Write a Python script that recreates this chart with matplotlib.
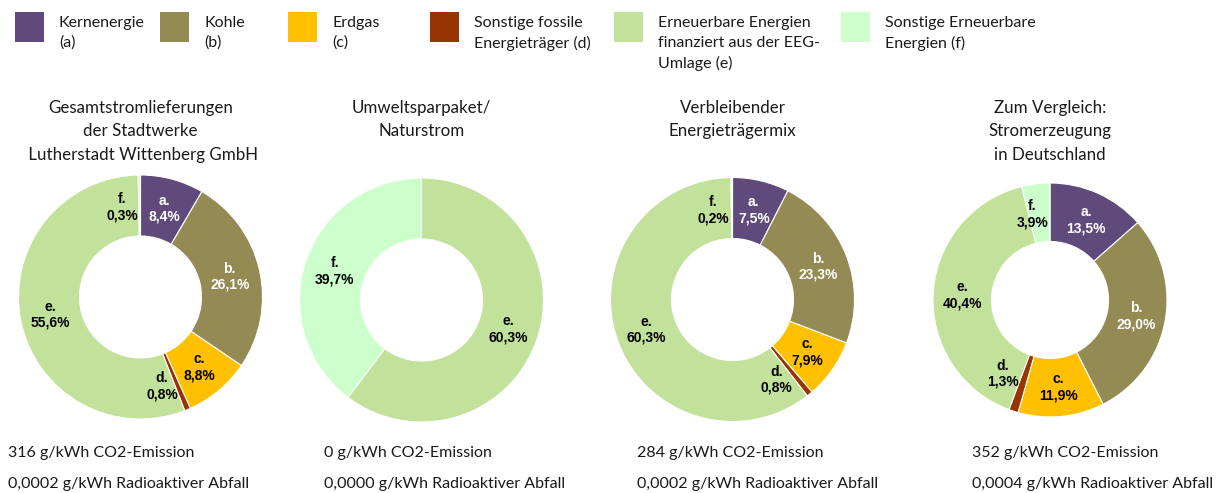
import matplotlib
matplotlib.use("Agg")
import matplotlib.pyplot as plt
from matplotlib.patches import Rectangle
import numpy as np

# ---------------- data ----------------
letters = ["a", "b", "c", "d", "e", "f"]
legend_labels = [
    ["Kernenergie", "(a)"],
    ["Kohle", "(b)"],
    ["Erdgas", "(c)"],
    ["Sonstige fossile", "Energieträger (d)"],
    ["Erneuerbare Energien", "finanziert aus der EEG-", "Umlage (e)"],
    ["Sonstige Erneuerbare", "Energien (f)"],
]
colors = ["#604A7B", "#948A54", "#FFC000", "#993300", "#C2E19B", "#CCFFCC"]
label_colors = ["white", "white", "black", "black", "black", "black"]

titles = [
    ["Gesamtstromlieferungen", "der Stadtwerke", " Lutherstadt Wittenberg GmbH"],
    ["Umweltsparpaket/", "Naturstrom"],
    ["Verbleibender", "Energieträgermix"],
    ["Zum Vergleich:", "Stromerzeugung", "in Deutschland"],
]
gesamt = [8.4, 26.1, 8.8, 0.8, 55.6, 0.3]
umwelt = [0.0, 0.0, 0.0, 0.0, 60.3, 39.7]
verbleibend = [7.5, 23.3, 7.9, 0.8, 60.3, 0.2]
deutschland = [13.5, 29.0, 11.9, 1.3, 40.4, 3.9]
series = [gesamt, umwelt, verbleibend, deutschland]
co2 = ["316", "0", "284", "352"]
radioaktiv = ["0,0002", "0,0000", "0,0002", "0,0004"]

# ---------------- layout / style ----------------
W, H = 1228, 493
FONT = "Lato"
centers = [(140.5, 297), (421.5, 300), (732.5, 299.5), (1050, 300)]
radii = [122, 122, 122, 117]
# angular nudges (degrees, clockwise) for labels of thin slices
nudges = [{"d": 9, "f": -11}, {}, {"d": 10.5, "f": -12}, {"d": 14.5, "f": -4.6}]
legend_sq_x = [15, 160, 288, 430, 614, 841]
text_x = [8, 324, 637.5, 972]

fig = plt.figure(figsize=(W / 100, H / 100), dpi=100)
fig.patch.set_facecolor("white")


def fx(x):
    return x / W


def fy(y):
    return 1 - y / H


def ftext(x, y, s, **kw):
    kw.setdefault("fontfamily", FONT)
    kw.setdefault("fontsize", 11.5)
    kw.setdefault("color", "#1a1a1a")
    fig.text(fx(x), fy(y), s, **kw)


# legend
for i, (lab, col) in enumerate(zip(legend_labels, colors)):
    sx = legend_sq_x[i]
    fig.patches.append(Rectangle((fx(sx), fy(42)), 29 / W, 30 / H,
                                 transform=fig.transFigure, facecolor=col,
                                 edgecolor="none"))
    for j, line in enumerate(lab):
        ftext(sx + 44, 23 + 20 * j, line, ha="left", va="center")

# pies
pad = 1.04
for k, vals in enumerate(series):
    cx, cy = centers[k]
    R = radii[k] * pad
    ax = fig.add_axes([fx(cx - R), fy(cy + R), 2 * R / W, 2 * R / H])
    keep = [i for i, v in enumerate(vals) if v > 0]
    wedges, _ = ax.pie([vals[i] for i in keep], colors=[colors[i] for i in keep],
                       startangle=90, counterclock=False, radius=1,
                       wedgeprops=dict(width=0.5, edgecolor="white", linewidth=0.8))
    ax.set_xlim(-pad, pad)
    ax.set_ylim(-pad, pad)
    ax.set_aspect("equal")
    ax.axis("off")
    for w, i in zip(wedges, keep):
        theta = (w.theta1 + w.theta2) / 2 - nudges[k].get(letters[i], 0)
        r = 0.75
        x, y = r * np.cos(np.radians(theta)), r * np.sin(np.radians(theta))
        txt = f"{letters[i]}.\n" + f"{vals[i]:.1f}".replace(".", ",") + "%"
        ax.text(x, y, txt, ha="center", va="center", fontsize=10,
                fontweight="bold", fontfamily="Liberation Sans",
                color=label_colors[i], linespacing=1.2)

    # titles
    for j, line in enumerate(titles[k]):
        ftext(cx, 108 + 23.3 * j, line, ha="center", va="center", fontsize=12.2)

    # bottom texts
    ftext(text_x[k], 453, f"{co2[k]} g/kWh CO2-Emission", ha="left", va="center")
    ftext(text_x[k], 484, f"{radioaktiv[k]} g/kWh Radioaktiver Abfall",
          ha="left", va="center")

fig.savefig("out.png", dpi=100)
